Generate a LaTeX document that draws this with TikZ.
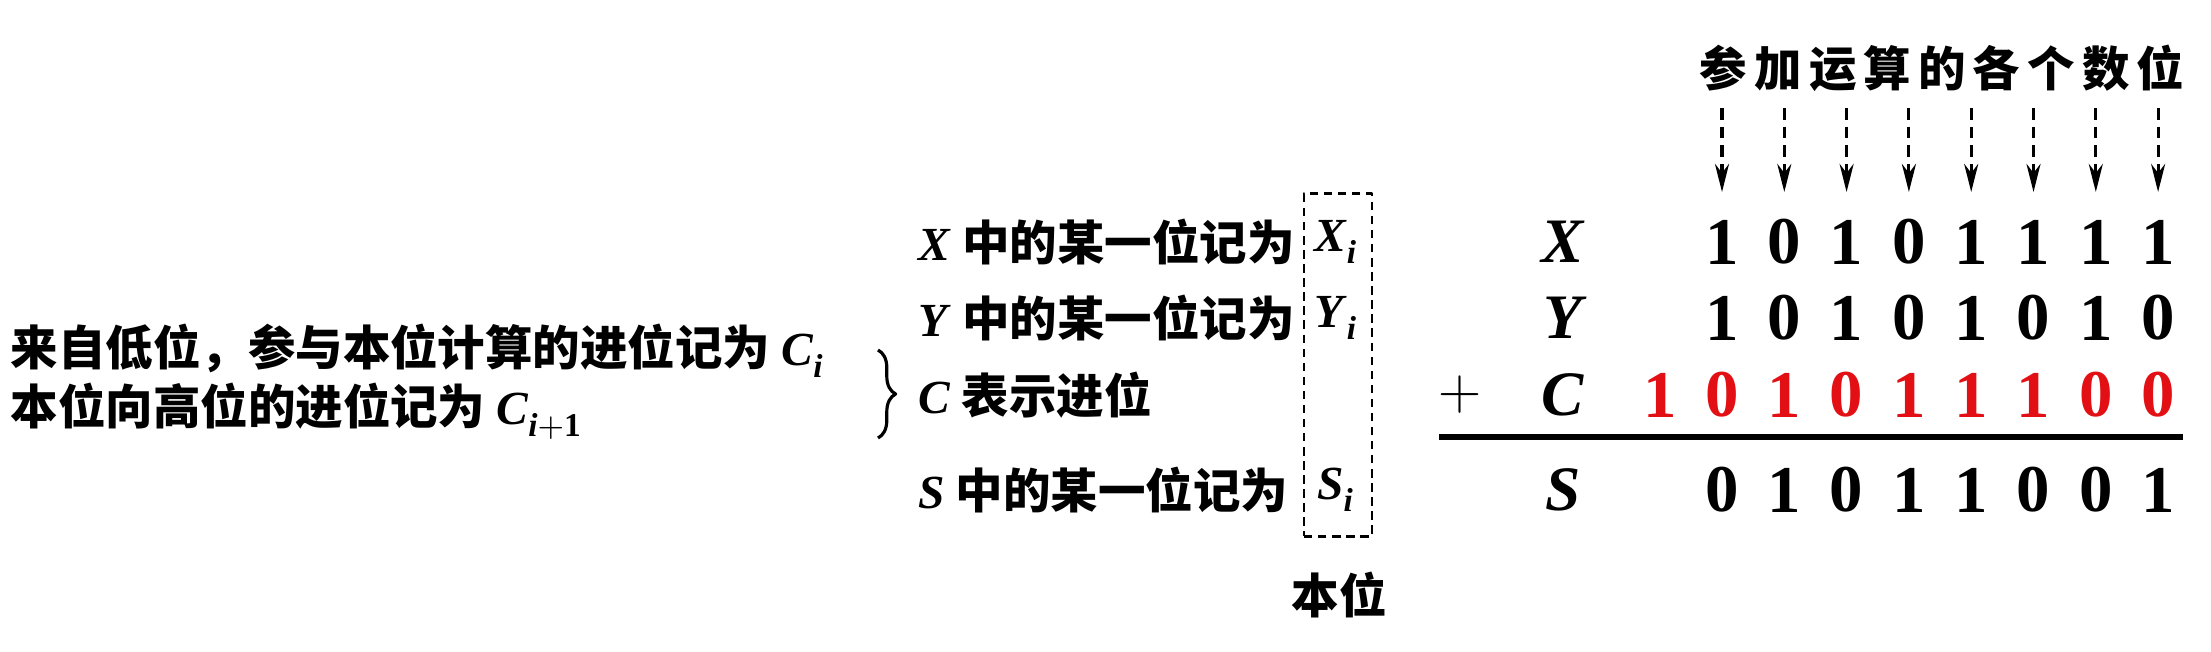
\RequirePackage{fix-cm}
\documentclass[tikz,border=0pt]{standalone}
\usepackage{amstext}
\usepackage{fontspec}
\setmainfont{Liberation Serif}
\newfontfamily\cjk{Noto Sans CJK SC}
\usetikzlibrary{arrows.meta,decorations.pathreplacing}
\definecolor{bitred}{RGB}{226,16,20}
\newcommand{\bv}[1]{\textrm{\bfseries\itshape #1}}
\newcommand{\bsub}[1]{$_{\lower1.5pt\hbox{$\scriptstyle #1$}}$}
\tikzset{
  cn/.style={font=\cjk\bfseries\fontsize{13.5}{16}\selectfont, inner sep=0pt},
  bit/.style={font=\bfseries\fontsize{19}{21}\selectfont, inner sep=0pt},
  sym/.style={font=\bfseries\itshape\fontsize{18}{21}\selectfont, inner sep=0pt}
}
\begin{document}
\begin{tikzpicture}[x=0.01cm,y=-0.01cm,>={Stealth[length=8pt,width=4pt]},line join=round]
\useasboundingbox (0,0) rectangle (2211,651);
% carries
\node[cn,anchor=west] (cin) at (10,351) {来自低位，参与本位计算的进位记为 \bv{C}\bsub{\bv{i}}};
\node[cn,anchor=west] (cout) at (10,411) {本位向高位的进位记为 \bv{C}\bsub{\bv{i}\mathbf{+1}}};
\draw[line width=0.9pt,decorate,decoration={brace,amplitude=5pt}] (878,350) -- (878,438);
% rows
\node[cn,anchor=west] (rx) at (918,242) {\bv{X} 中的某一位记为};
\node[cn,anchor=west] (ry) at (918,318) {\bv{Y} 中的某一位记为};
\node[cn,anchor=west] (rc) at (918,395) {\bv{C} 表示进位};
\node[cn,anchor=west] (rs) at (918,490) {\bv{S} 中的某一位记为};
\node[draw,dashed,line width=0.8pt,dash pattern=on 2.4pt off 1.6pt,minimum width=0.68cm,minimum height=3.42cm] (box) at (1338,365) {};
\node[cn] (xi) at (1336,242) {\bv{X}\bsub{\bv{i}}};
\node[cn] (yi) at (1336,318) {\bv{Y}\bsub{\bv{i}}};
\node[cn] (si) at (1336,490) {\bv{S}\bsub{\bv{i}}};
\node[cn] (benwei) at (1339,595) {本位};
% addition
\node[cn] (title) at (1942,68) {\addfontfeatures{LetterSpace=15}参加运算的各个数位};
\foreach \k in {0,...,7}{
  \coordinate (t\k) at ({1722+62.3*\k},108);
  \coordinate (h\k) at ({1722+62.3*\k},192);
  \draw[->,line width=0.9pt,dash pattern=on 3.3pt off 2pt] (t\k) -- (h\k);
}
\node[sym] (lx) at (1563,242) {X};
\node[sym] (ly) at (1563,318) {Y};
\node[sym] (lc) at (1563,395) {C};
\node[sym] (ls) at (1563,490) {S};
\node[font=\fontsize{17}{20}\selectfont,inner sep=0pt] (plus) at (1460,395) {$+$};
\foreach \d [count=\k from 0] in {1,0,1,0,1,1,1,1}
  \node[bit] (x\k) at ({1722+62.3*\k},242) {\d};
\foreach \d [count=\k from 0] in {1,0,1,0,1,0,1,0}
  \node[bit] (y\k) at ({1722+62.3*\k},318) {\d};
\foreach \d [count=\k from 0] in {1,0,1,0,1,1,1,0,0}
  \node[bit,text=bitred] (c\k) at ({1659.7+62.3*\k},395) {\d};
\foreach \d [count=\k from 0] in {0,1,0,1,1,0,0,1}
  \node[bit] (s\k) at ({1722+62.3*\k},490) {\d};
\draw[line width=1.5pt] (1439,437) -- (2183,437);
\end{tikzpicture}
\end{document}
